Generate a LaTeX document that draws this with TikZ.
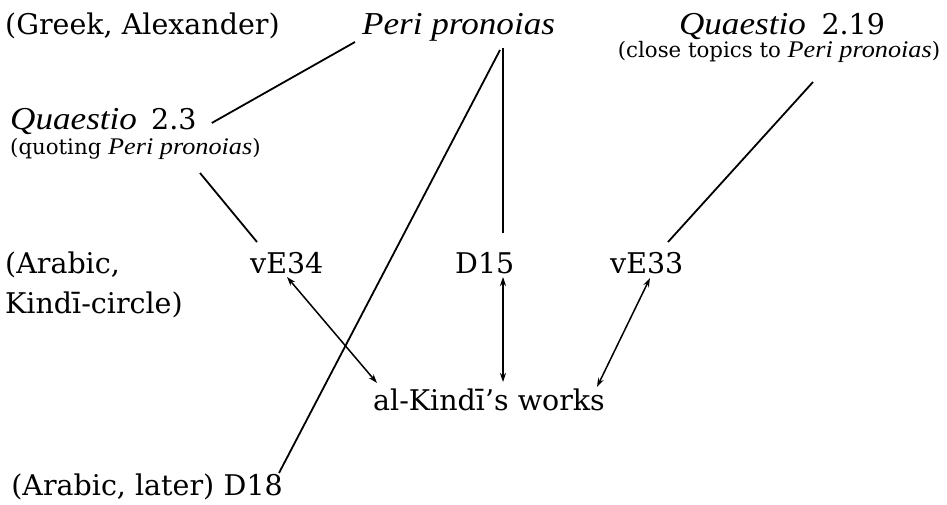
\documentclass[tikz,border=0pt]{standalone}
\usepackage{fontspec}
\setmainfont{DejaVu Serif}
\newfontfamily\itfam{Liberation Serif}[Scale=1.12, FakeStretch=1.1]
\newcommand{\ttl}[1]{{\itfam\itshape #1}}
\usetikzlibrary{arrows.meta}
\begin{document}
\begin{tikzpicture}[x=1pt,y=-1pt,
  lbl/.style={inner sep=0pt, anchor=base west, font=\fontsize{28.5}{32}\selectfont},
  note/.style={inner sep=0pt, anchor=base west, font=\fontsize{21.3}{24}\selectfont},
  link/.style={line width=1.8pt},
  both/.style={line width=1.5pt, {Stealth[length=9pt,width=6pt]}-{Stealth[length=9pt,width=6pt]}}]
\useasboundingbox (0,0) rectangle (947,505);

% Greek sources
\node[lbl] (greek) at (5,35) {(Greek, Alexander)};
\node[lbl] (peri) at (362,35) {\ttl{Peri pronoias}};
\node[lbl, anchor=base] (q219) at (782,35) {\ttl{Quaestio}\hspace{0.55em}2.19};
\node[note, anchor=base] (close) at (779,58) {(close topics to \ttl{Peri pronoias})};
\node[lbl] (q23) at (10,130) {\ttl{Quaestio}\hspace{0.5em}2.3};
\node[note] (quoting) at (10,155) {(quoting \ttl{Peri pronoias})};

% Arabic translations, Kindi circle
\node[lbl] (arab) at (5,273) {(Arabic,};
\node[lbl] (circle) at (5,313) {Kindī-circle)};
\node[lbl] (ve34) at (250,273) {vE34};
\node[lbl] (d15) at (455,273) {D15};
\node[lbl] (ve33) at (610,273) {vE33};
\node[lbl] (works) at (373,410) {al-Kindī’s works};

% later Arabic tradition
\node[lbl, anchor=base east] (d18) at (283,495) {D18};
\node[lbl, anchor=base east] (later) at ([xshift=-9pt]d18.base west) {(Arabic, later)};

% lines of transmission
\draw[link] ([xshift=15pt,yshift=7pt]q23.base east) -- ([xshift=-7pt,yshift=-7pt]peri.base west);
\draw[link] ([xshift=138pt,yshift=-15pt]peri.base west) -- ([xshift=-4pt,yshift=22pt]d18.base east);
\draw[link] ([xshift=141pt,yshift=-13pt]peri.base west) -- ([xshift=48pt,yshift=40pt]d15.base west);
\draw[link] ([xshift=190pt,yshift=-18pt]quoting.base west) -- ([xshift=7pt,yshift=31pt]ve34.base west);
\draw[link] ([xshift=34pt,yshift=-24pt]close.base) -- ([xshift=58pt,yshift=31pt]ve33.base west);

% exchanges with al-Kindi's works
\draw[both] ([xshift=37pt,yshift=-4pt]ve34.base west) -- ([xshift=4pt,yshift=27pt]works.base west);
\draw[both] ([xshift=48pt,yshift=-4pt]d15.base west) -- ([xshift=130pt,yshift=28pt]works.base west);
\draw[both] ([xshift=40pt,yshift=-5pt]ve33.base west) -- ([xshift=224pt,yshift=23pt]works.base west);
\end{tikzpicture}
\end{document}
